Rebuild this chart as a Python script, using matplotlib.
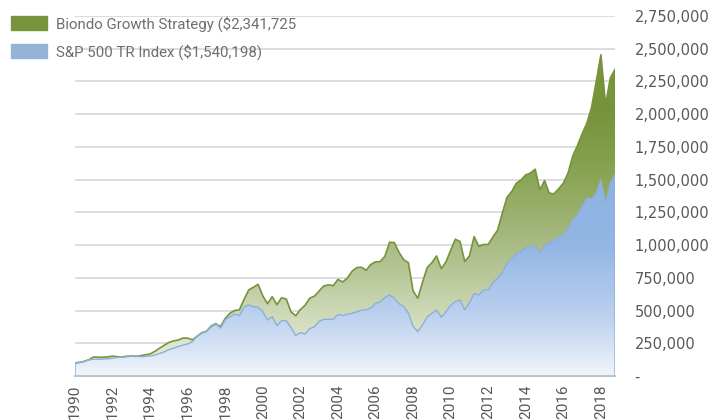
import numpy as np
import pandas as pd
import matplotlib
matplotlib.use('Agg')
import matplotlib.pyplot as plt
from matplotlib.colors import LinearSegmentedColormap
from matplotlib.patches import Patch
from matplotlib.ticker import FuncFormatter, MultipleLocator

# quarterly growth of $100,000, values in $ thousands
quarters = pd.period_range('1990Q1', '2018Q4', freq='Q')

biondo = [100, 104, 112, 125, 146, 143, 143, 146, 152, 147, 145, 151,
          153, 150, 155, 162, 168, 188, 212, 235, 256, 268, 275, 290,
          289, 276, 303, 330, 342, 380, 398, 378, 440, 480, 500, 505,
          585, 658, 678, 700, 612, 552, 606, 545, 598, 588, 490, 460,
          508, 540, 595, 610, 650, 688, 696, 690, 738, 718, 748, 800,
          828, 831, 808, 852, 872, 874, 915, 1022, 1019, 945, 888, 866,
          650, 594, 715, 828, 866, 917, 820, 872, 960, 1045, 1027, 875,
          917, 1065, 990, 1005, 1005, 1062, 1114, 1244, 1365, 1409, 1473, 1498,
          1537, 1550, 1580, 1422, 1493, 1397, 1391, 1430, 1473, 1550, 1680, 1760,
          1850, 1930, 2050, 2250, 2454, 2072, 2276, 2341.725]

sp500 = [100, 104, 112, 124, 128, 128, 129, 131, 136, 141, 145, 147,
         150, 153, 148, 150, 153, 160, 172, 185, 202, 212, 225, 236,
         245, 262, 305, 332, 342, 385, 403, 366, 430, 452, 474, 461,
         528, 543, 530, 525, 492, 428, 453, 385, 423, 423, 370, 310,
         331, 321, 362, 377, 418, 433, 433, 433, 470, 462, 472, 479,
         490, 503, 505, 520, 555, 566, 600, 619, 594, 552, 530, 480,
         380, 339, 390, 450, 479, 505, 449, 490, 540, 568, 581, 505,
         560, 630, 619, 657, 657, 715, 748, 790, 862, 900, 938, 950,
         984, 989, 994, 938, 1002, 1014, 1040, 1060, 1078, 1129, 1193, 1231,
         1294, 1359, 1351, 1397, 1498, 1320, 1473, 1540.198]

labels = ['Biondo Growth Strategy ($2,341,725', 'S&P 500 TR Index ($1,540,198)']
year_ticks = list(range(1990, 2019, 2))

x = np.asarray(quarters.year + (quarters.quarter - 1) / 4, dtype=float)
g = np.array(biondo) * 1000
b = np.array(sp500) * 1000
ymax = 2.75e6

green = '#77933C'
blue = '#95B3D7'
text_gray = '#595959'

fig = plt.figure(figsize=(7.19, 4.2), dpi=100)
ax = fig.add_axes([75 / 719, 44 / 420, 540 / 719, 360 / 420])

green_cmap = LinearSegmentedColormap.from_list('g', [
    (0, '#EEF2E6'), (0.18, '#CDD8B6'), (0.27, '#BAC99C'),
    (0.44, '#9CB271'), (0.6, '#84A04C'), (0.73, '#77933C'), (1, '#77933C')])
blue_cmap = LinearSegmentedColormap.from_list('b', [
    (0, '#F2F6FB'), (0.073, '#D8E4F5'), (0.18, '#B8CFEE'),
    (0.36, '#93B6E4'), (0.55, '#8DB3E2'), (1, '#8DB3E2')])

grad = np.linspace(0, 1, 256).reshape(-1, 1)
for vals, cmap, z in [(g, green_cmap, 1), (b, blue_cmap, 2)]:
    poly = ax.fill_between(x, 0, vals, facecolor='none', edgecolor='none')
    im = ax.imshow(grad, extent=[x[0], x[-1], 0, ymax], origin='lower',
                   aspect='auto', cmap=cmap, zorder=z, interpolation='bilinear')
    im.set_clip_path(poly.get_paths()[0], ax.transData)

ax.plot(x, g, color=green, lw=1.2, zorder=3)
ax.fill_between(x, 0, b, facecolor='none', edgecolor='#8EB0D6', lw=1.0, zorder=4)

ax.set_xlim(x[0], x[-1])
ax.set_ylim(0, ymax)

ax.yaxis.grid(True, color='#DADADA', lw=1.3)
ax.set_axisbelow(True)

for s in ['top', 'left', 'right']:
    ax.spines[s].set_visible(False)
ax.spines['bottom'].set_color('#BCC6D0')
ax.spines['bottom'].set_linewidth(1.5)
ax.spines['bottom'].set_zorder(5)

ax.set_xticks(year_ticks)
ax.set_xticklabels([str(y) for y in year_ticks], rotation=90,
                   family='Roboto', fontsize=11, color=text_gray)
ax.tick_params(axis='x', length=0, pad=6)

ax.yaxis.tick_right()
ax.yaxis.set_major_locator(MultipleLocator(250000))
ax.yaxis.set_major_formatter(FuncFormatter(lambda v, p: '-' if v == 0 else f'{v:,.0f}'))
ax.tick_params(axis='y', length=0, pad=14, labelsize=10.5, labelcolor=text_gray)

handles = [Patch(color=green), Patch(color=blue)]
fig.legend(handles, labels, loc='upper left', bbox_to_anchor=(11 / 719, 1 - 16 / 420),
           frameon=False, borderpad=0, borderaxespad=0, handlelength=2.4,
           handleheight=1.07, handletextpad=0.6, labelspacing=0.78,
           prop={'family': 'Roboto', 'size': 10.8}, labelcolor='#6E6E6E')

fig.savefig('out.png', dpi=100)
